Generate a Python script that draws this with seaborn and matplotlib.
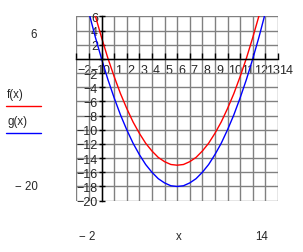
import matplotlib
matplotlib.use("Agg")
import matplotlib.pyplot as plt
import matplotlib.transforms as mtransforms
from matplotlib.lines import Line2D
import seaborn as sns
import pandas as pd

sns.set_theme(style="white")
plt.rcParams['font.family'] = ['Liberation Sans', 'DejaVu Sans']

# values
x_vals = [-1.0, -0.5, 0.0, 0.5, 1.0, 1.5, 2.0, 2.5, 3.0, 3.5, 4.0, 4.5, 5.0, 5.5, 6.0,
          6.5, 7.0, 7.5, 8.0, 8.5, 9.0, 9.5, 10.0, 10.5, 11.0, 11.5, 12.0, 12.5, 13.0, 13.5]
f_vals = [9.5, 6.1, 3.0, 0.1, -2.5, -4.9, -7.0, -8.9, -10.5, -11.9, -13.0, -13.9, -14.5, -14.9, -15.0,
          -14.9, -14.5, -13.9, -13.0, -11.9, -10.5, -8.9, -7.0, -4.9, -2.5, 0.1, 3.0, 6.1, 9.5, 13.1]
g_vals = [6.5, 3.1, 0.0, -2.9, -5.5, -7.9, -10.0, -11.9, -13.5, -14.9, -16.0, -16.9, -17.5, -17.9, -18.0,
          -17.9, -17.5, -16.9, -16.0, -14.9, -13.5, -11.9, -10.0, -7.9, -5.5, -2.9, 0.0, 3.1, 6.5, 10.1]

x_ticks = list(range(-2, 15))
y_ticks = list(range(-20, 7, 2))
y_labels = ["" if v == 0 else f"\u2212{abs(v)}" if v < 0 else str(v) for v in y_ticks]
x_labels = [f"\u2212{abs(v)}" if v < 0 else str(v) for v in x_ticks]

W, H = 303, 253
fig = plt.figure(figsize=(W / 100, H / 100), dpi=100)
ax = fig.add_axes([76 / W, 1 - 202 / H, 202.3 / W, 185 / H])

df = pd.DataFrame({"x": x_vals, "f": f_vals, "g": g_vals})
sns.lineplot(data=df, x="x", y="f", color="#ff0000", lw=1.0, ax=ax, sort=False)
sns.lineplot(data=df, x="x", y="g", color="#0000ff", lw=1.0, ax=ax, sort=False)

ax.set_xlim(-2.03, 14.03)
ax.set_ylim(-20.05, 6.05)
ax.set_xticks(x_ticks)
ax.set_yticks(y_ticks)
ax.set_xticklabels(x_labels)
ax.set_yticklabels(y_labels)
ax.set_xlabel("")
ax.set_ylabel("")
ax.grid(True, color="#808080", lw=1.0)
ax.set_axisbelow(True)

for side in ["top", "right"]:
    ax.spines[side].set_visible(False)
ax.spines["left"].set_position(("data", 0))
ax.spines["bottom"].set_position(("data", 0))
for side in ["left", "bottom"]:
    ax.spines[side].set_color("black")
    ax.spines[side].set_linewidth(1.0)
    ax.spines[side].set_zorder(3)

ax.tick_params(axis="x", direction="in", length=4, width=1, color="black",
               pad=4.0, labelsize=9, bottom=True)
ax.tick_params(axis="y", direction="inout", length=4, width=1, color="black",
               pad=0.6, labelsize=9, left=True)
offset = mtransforms.ScaledTranslation(1.0 / 100, 0, fig.dpi_scale_trans)
for lab in ax.get_xticklabels():
    lab.set_horizontalalignment("left")
    lab.set_transform(lab.get_transform() + offset)


def ftext(px, py, s, **kw):
    fig.text(px / W, 1 - py / H, s, fontsize=8.3, va="center", **kw)


ftext(34, 35, "6", ha="center")
ftext(38, 187, "\u2212 20", ha="right")
ftext(87, 237, "\u2212 2", ha="center")
ftext(179, 237, "x", ha="center")
ftext(262, 237, "14", ha="center")

ftext(7, 95, "f(x)", ha="left")
ftext(8, 122, "g(x)", ha="left")
fig.add_artist(Line2D([6 / W, 41 / W], [1 - 107 / H, 1 - 107 / H], color="#ff0000", lw=1.0))
fig.add_artist(Line2D([6 / W, 41 / W], [1 - 134 / H, 1 - 134 / H], color="#0000ff", lw=1.0))

fig.savefig("out.png", dpi=100, facecolor="white")
